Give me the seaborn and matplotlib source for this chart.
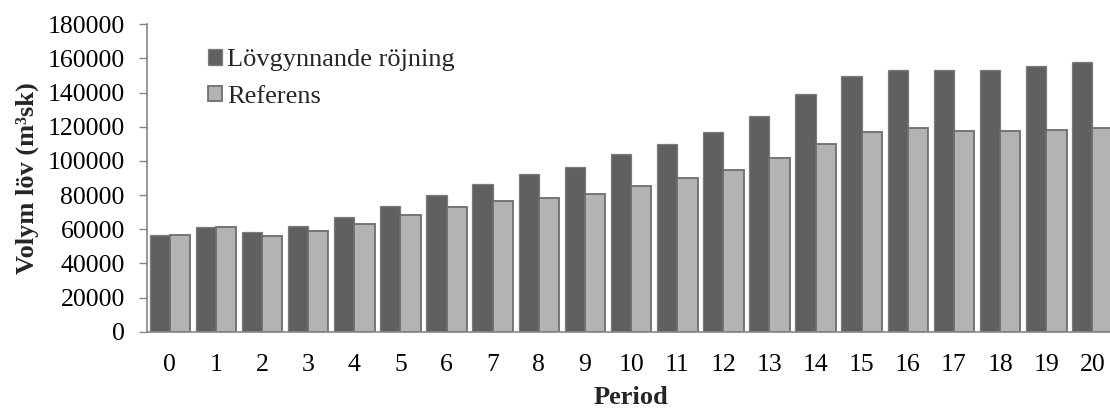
import matplotlib
matplotlib.use("Agg")
import matplotlib.pyplot as plt
import seaborn as sns
import pandas as pd
import numpy as np
from matplotlib.patches import Patch

periods = list(range(21))
lovgynnande = [56500, 61400, 58600, 62000, 66900, 73400, 79900, 86400, 92300, 96600,
               103800, 110000, 116800, 126200, 138900, 150000, 153100, 153100, 153500, 155800, 157800]
referens = [56900, 61600, 56300, 59200, 62900, 68400, 72900, 76500, 78500, 80600,
            85600, 89900, 94400, 101600, 110000, 116700, 119200, 117800, 117800, 118200, 119200]
series_names = ["Lövgynnande röjning", "Referens"]
ytick_vals = list(range(0, 180001, 20000))

df = pd.DataFrame({
    "Period": [str(p) for p in periods] * 2,
    "Volym": lovgynnande + referens,
    "Serie": [series_names[0]] * 21 + [series_names[1]] * 21,
})

sns.set_theme(style="white")
plt.rcParams["font.family"] = ["Liberation Serif", "DejaVu Serif"]

fig = plt.figure(figsize=(11.10, 4.12), dpi=100)
ax = fig.add_axes([0.1322, 0.1949, 0.8727, 0.7461])

dark, light = "#606060", "#b3b3b3"
palette = {series_names[0]: dark, series_names[1]: light}
sns.barplot(data=df, x="Period", y="Volym", hue="Serie", hue_order=series_names,
            palette=palette, width=0.88, gap=0, dodge=True, saturation=1,
            ax=ax, legend=False)

for i, bar in enumerate(ax.patches):
    if i < 21:
        bar.set_edgecolor("#7c7c7c")
        bar.set_linewidth(0.9)
    else:
        bar.set_edgecolor("#6e6e6e")
        bar.set_linewidth(1.3)

ax.set_xlim(-0.5, 20.5)
ax.set_ylim(0, 180000)
ax.set_yticks(ytick_vals)
ax.set_yticklabels([str(v) for v in ytick_vals], fontsize=18.5)
ax.set_xticks(range(21))
ax.set_xticklabels([str(p) for p in periods], fontsize=18.5)
ax.set_xticks(np.arange(-0.5, 21, 1.0), minor=True)
ax.tick_params(axis="x", which="major", length=0, pad=16, colors="black")
ax.tick_params(axis="x", which="minor", length=5.5, width=1, color="#868686", direction="out")
ax.tick_params(axis="y", which="major", length=5.8, width=1, direction="out",
               left=True, pad=10, labelcolor="black", color="#868686")

for s in ["top", "right"]:
    ax.spines[s].set_visible(False)
for s in ["left", "bottom"]:
    ax.spines[s].set_color("#868686")
    ax.spines[s].set_linewidth(1.2)

ax.set_xlabel("Period", fontsize=19, fontweight="bold", labelpad=7)
ax.set_ylabel("Volym löv (m³sk)", fontsize=19, fontweight="bold", labelpad=6)

handles = [Patch(facecolor=dark, edgecolor="#7c7c7c", linewidth=0.9),
           Patch(facecolor=light, edgecolor="#6e6e6e", linewidth=1.3)]
ax.legend(handles, series_names, loc="upper left", bbox_to_anchor=(0.063, 0.919),
          frameon=False, fontsize=19, handlelength=0.53, handleheight=0.53,
          handletextpad=0.2, labelspacing=0.55, borderpad=0, borderaxespad=0)

fig.savefig("out.png", dpi=100)
